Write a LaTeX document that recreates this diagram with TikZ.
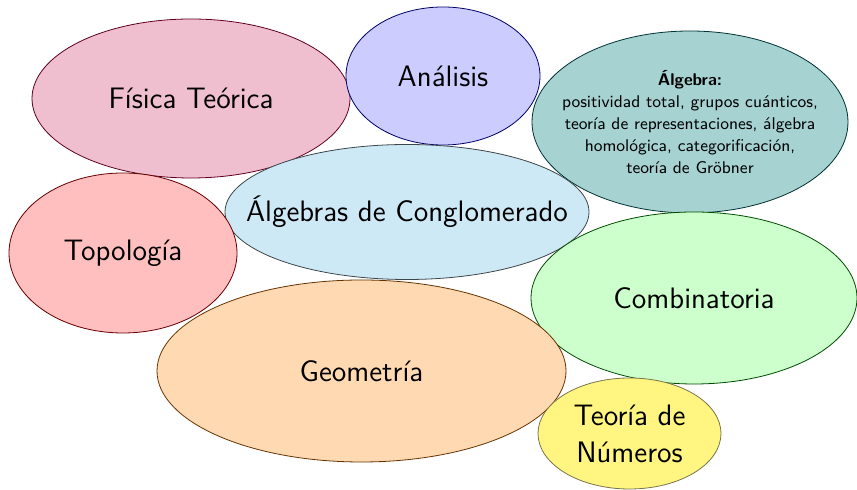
\documentclass[tikz,border=0pt]{standalone}
\usepackage{tikz}
\usetikzlibrary{shapes.geometric}

\definecolor{clusterblue}{RGB}{205,233,246}
\definecolor{numyellow}{RGB}{255,245,128}

\begin{document}
\begin{tikzpicture}[x=0.5pt,y=-0.5pt,
  area/.style={ellipse, draw, inner sep=0pt},
  areatext/.style={align=center, font=\sffamily\fontsize{14.8}{18.5}\selectfont}]

\useasboundingbox (0,0) rectangle (857,490);

% Top row
\node[area, fill=purple!25, draw=purple!50!black, minimum width=159pt, minimum height=79.5pt,
  label={[areatext]center:Física Teórica}] (fisica) at (191,98.5) {};
\node[area, fill=blue!20, draw=blue!40!black, minimum width=97pt, minimum height=69pt,
  label={[areatext]center:Análisis}] (analisis) at (443,76) {};
\node[area, fill=teal!35, draw=teal!40!black, minimum width=158pt, minimum height=91pt,
  label={[areatext, font=\sffamily\fontsize{8.5}{11}\selectfont]center:{\textbf{Álgebra:}\\positividad total, grupos cuánticos,\\teoría de representaciones, álgebra\\homológica, categorificación,\\teoría de Gröbner}}]
  (algebra) at (690,122) {};

% Middle row
\node[area, fill=clusterblue, draw=clusterblue!30!black, minimum width=182pt, minimum height=67.5pt,
  label={[areatext]center:Álgebras de Conglomerado}] (conglomerado) at (407,212) {};
\node[area, fill=red!25, draw=red!40!black, minimum width=114pt, minimum height=80pt,
  label={[areatext]center:Topología}] (topologia) at (123,253) {};
\node[area, fill=green!20, draw=green!30!black, minimum width=163pt, minimum height=86pt,
  label={[areatext]center:Combinatoria}] (combinatoria) at (694,298) {};

% Bottom row
\node[area, fill=orange!30, draw=orange!40!black, minimum width=204.5pt, minimum height=91pt,
  label={[areatext]center:Geometría}] (geometria) at (361.5,371) {};
\node[area, fill=numyellow, draw=yellow!40!black, minimum width=91.5pt, minimum height=55.5pt,
  label={[areatext]center:{Teoría de\\Números}}] (numeros) at (629.5,433.5) {};

\end{tikzpicture}
\end{document}
